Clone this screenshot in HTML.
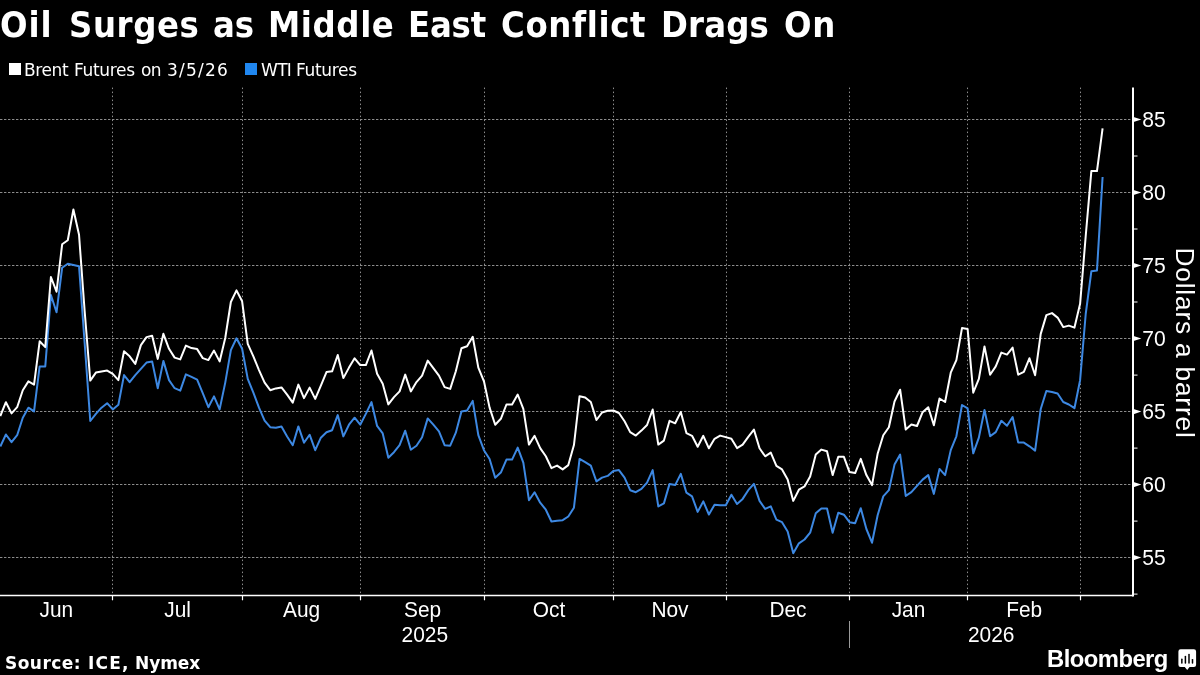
<!DOCTYPE html>
<html lang="en"><head><meta charset="utf-8"><title>Oil Surges as Middle East Conflict Drags On</title>
<style>
html,body{margin:0;padding:0;background:#000;}
body{width:1200px;height:675px;position:relative;overflow:hidden;color:#fff;font-family:"DejaVu Sans","Liberation Sans",sans-serif;}
.t{position:absolute;white-space:nowrap;line-height:1;will-change:transform;}
#title{top:7px;height:44px;width:900px;font-family:"DejaVu Sans Condensed","DejaVu Sans","Liberation Sans",sans-serif;font-weight:bold;font-size:36px;line-height:1;white-space:nowrap;}
.w span{position:absolute;top:0;will-change:transform;}
.w{position:absolute;left:0;white-space:nowrap;line-height:1;}
.leg{top:62px;height:20px;width:400px;font-size:17px;}
#src{top:654.5px;height:20px;width:300px;font-size:17px;font-weight:bold;}
.sw{position:absolute;width:12px;height:12px;top:63px;}
#bb{left:1047px;top:647.2px;font-family:"Liberation Sans",sans-serif;font-weight:bold;font-size:23.8px;letter-spacing:-0.53px;}
</style></head><body>
<svg width="1200" height="675" viewBox="0 0 1200 675" style="position:absolute;left:0;top:0;will-change:transform">
<g stroke="#8c8c8c" stroke-width="1" stroke-dasharray="2.4 1.6" fill="none">
<line x1="0" y1="557.5" x2="1132.0" y2="557.5"/>
<line x1="0" y1="484.5" x2="1132.0" y2="484.5"/>
<line x1="0" y1="411.5" x2="1132.0" y2="411.5"/>
<line x1="0" y1="338.5" x2="1132.0" y2="338.5"/>
<line x1="0" y1="265.5" x2="1132.0" y2="265.5"/>
<line x1="0" y1="192.5" x2="1132.0" y2="192.5"/>
<line x1="0" y1="119.5" x2="1132.0" y2="119.5"/>
</g>
<g stroke="#8c8c8c" stroke-width="1" stroke-dasharray="1.5 2.5" fill="none">
<line x1="112.5" y1="87.6" x2="112.5" y2="595.5"/>
<line x1="242.5" y1="87.6" x2="242.5" y2="595.5"/>
<line x1="360.5" y1="87.6" x2="360.5" y2="595.5"/>
<line x1="484.5" y1="87.6" x2="484.5" y2="595.5"/>
<line x1="613.5" y1="87.6" x2="613.5" y2="595.5"/>
<line x1="726.5" y1="87.6" x2="726.5" y2="595.5"/>
<line x1="849.5" y1="87.6" x2="849.5" y2="595.5"/>
<line x1="967.5" y1="87.6" x2="967.5" y2="595.5"/>
<line x1="1080.5" y1="87.6" x2="1080.5" y2="595.5"/>
</g>
<polyline points="0.29,446.5 5.91,434.5 11.54,442.2 17.16,435.2 22.79,417.7 28.41,407.7 34.03,411.4 39.66,366.4 45.28,366.4 50.91,295 56.53,312.3 62.15,267.7 67.78,263.7 73.4,265 79.03,266.3 84.65,343 90.27,421.0 95.9,413.9 101.52,407.7 107.15,403.2 112.77,409.4 118.39,404.7 124.02,375.1 129.64,382.1 135.27,375.1 140.89,368.9 146.51,362.6 152.14,361.4 157.76,388.2 163.39,360.9 169.01,380.1 174.63,388.2 180.26,390.7 185.88,374.4 191.51,376.9 197.13,379.6 202.75,393.2 208.38,407.2 214.0,396.4 219.63,409.4 225.25,382.6 230.87,350.1 236.5,338.3 242.12,348.8 247.75,378.9 253.37,392.7 258.99,407.7 264.62,420.7 270.24,427.2 275.87,427.7 281.49,426.5 287.11,436.5 292.74,445.2 298.36,426.4 303.99,442.7 309.61,434.7 315.23,450.2 320.86,437.7 326.48,432.2 332.11,430.2 337.73,415.1 343.35,436.4 348.98,424.7 354.6,417.7 360.23,424.7 365.85,413.9 371.47,402.1 377.1,425.9 382.72,433.4 388.35,457.7 393.97,452.2 399.59,445.2 405.22,430.7 410.84,449.7 416.47,445.7 422.09,437.2 427.71,418.4 433.34,424.7 438.96,431.4 444.59,445.2 450.21,445.7 455.83,432.7 461.46,411.4 467.08,410.6 472.71,400.9 478.33,435.2 483.95,450.2 489.58,459.0 495.2,477.8 500.83,472.6 506.45,459.6 512.07,459.6 517.7,447.6 523.32,462.6 528.95,500.2 534.57,492.2 540.19,502.7 545.82,509.7 551.44,521.5 557.07,520.7 562.69,520.2 568.31,516.5 573.94,507.7 579.56,458.9 585.19,462.1 590.81,465.6 596.43,481.4 602.06,477.6 607.68,475.9 613.31,470.9 618.93,470.1 624.55,477.6 630.18,490.2 635.8,492.2 641.43,488.9 647.05,482.6 652.67,470.1 658.3,506.4 663.92,503.4 669.55,483.9 675.17,485.1 680.79,473.9 686.42,492.7 692.04,496.4 697.67,511.9 703.29,501.4 708.91,514.5 714.54,504.7 720.16,505.2 725.79,505.2 731.41,494.7 737.03,503.9 742.66,498.9 748.28,490.2 753.91,483.9 759.53,500.9 765.15,508.9 770.78,506.4 776.4,519.7 782.03,522.2 787.65,531.5 793.27,553.3 798.9,543.3 804.52,539.5 810.15,532.7 815.77,513.2 821.39,508.4 827.02,508.4 832.64,532.7 838.27,512.7 843.89,514.7 849.51,522.2 855.14,523.2 860.76,508.2 866.39,529.0 872.01,542.7 877.63,515.2 883.26,496.4 888.88,490.2 894.51,464.6 900.13,454.6 905.75,495.9 911.38,492.2 917.0,485.9 922.63,479.6 928.25,475.1 933.87,493.9 939.5,468.9 945.12,475.1 950.75,450.1 956.37,436.3 961.99,405.0 967.62,408.3 973.24,453.3 978.87,437.6 984.49,410.0 990.11,436.3 995.74,432.1 1001.36,420.8 1006.99,425.8 1012.61,417.0 1018.23,442.6 1023.86,442.6 1029.48,446.3 1035.11,450.6 1040.73,409.0 1046.35,391.0 1051.98,392.0 1057.6,393.5 1063.23,402.0 1068.85,404.5 1074.47,408.2 1080.1,380.2 1085.72,314 1091.35,271.3 1096.97,270.5 1102.59,177" fill="none" stroke="#3d88e2" stroke-width="2" stroke-linejoin="round" stroke-linecap="butt"/>
<polyline points="0.29,416.0 5.91,402.2 11.54,413.4 17.16,407.2 22.79,390.2 28.41,381.4 34.03,384.6 39.66,341.3 45.28,347.1 50.91,277 56.53,291.7 62.15,244.3 67.78,240.3 73.4,209.5 79.03,234.8 84.65,311 90.27,380.6 95.9,372.6 101.52,371.4 107.15,370.6 112.77,373.9 118.39,380.1 124.02,351.3 129.64,356.3 135.27,363.9 140.89,345.1 146.51,337.1 152.14,335.8 157.76,358.9 163.39,333.8 169.01,348.8 174.63,357.6 180.26,359.4 185.88,345.6 191.51,348.1 197.13,349.1 202.75,358.1 208.38,360.1 214.0,350.6 219.63,361.4 225.25,338 230.87,302 236.5,290.4 242.12,301.3 247.75,343.8 253.37,356.3 258.99,370.1 264.62,382.6 270.24,390.2 275.87,388.4 281.49,387.4 287.11,394.7 292.74,402.6 298.36,384.6 303.99,398.1 309.61,387.6 315.23,398.9 320.86,385.6 326.48,372.1 332.11,371.3 337.73,355.0 343.35,378.1 348.98,367.6 354.6,358.3 360.23,365.1 365.85,365.1 371.47,350.5 377.1,373.8 382.72,383.8 388.35,404.4 393.97,397.1 399.59,391.4 405.22,374.6 410.84,391.4 416.47,382.1 422.09,375.6 427.71,360.6 433.34,368.1 438.96,375.6 444.59,387.1 450.21,388.9 455.83,371.3 461.46,348.3 467.08,346.3 472.71,336.8 478.33,367.6 483.95,381.3 489.58,407.6 495.2,424.7 500.83,418.8 506.45,404.5 512.07,404.5 517.7,394.5 523.32,408.8 528.95,444.6 534.57,435.8 540.19,448.1 545.82,456.3 551.44,468.1 557.07,465.6 562.69,469.4 568.31,465.1 573.94,445.1 579.56,396.2 585.19,397.5 590.81,402.0 596.43,420.0 602.06,412.5 607.68,410.8 613.31,410.5 618.93,413.0 624.55,421.3 630.18,432.1 635.8,435.6 641.43,430.6 647.05,425.0 652.67,409.5 658.3,444.6 663.92,440.6 669.55,420.8 675.17,423.3 680.79,412.0 686.42,433.1 692.04,435.8 697.67,446.8 703.29,435.8 708.91,448.3 714.54,438.8 720.16,435.6 725.79,437.1 731.41,438.8 737.03,448.1 742.66,444.6 748.28,436.8 753.91,429.6 759.53,448.3 765.15,456.3 770.78,452.6 776.4,465.9 782.03,469.4 787.65,479.6 793.27,500.9 798.9,489.7 804.52,486.4 810.15,476.4 815.77,454.6 821.39,449.6 827.02,451.3 832.64,475.1 838.27,456.8 843.89,456.8 849.51,472.1 855.14,473.1 860.76,458.9 866.39,475.1 872.01,485.1 877.63,453.8 883.26,435.3 888.88,427.3 894.51,401.5 900.13,389.7 905.75,429.5 911.38,424.5 917.0,426.0 922.63,412.2 928.25,407.2 933.87,425.3 939.5,398.5 945.12,402.0 950.75,372.7 956.37,360.2 961.99,328.1 967.62,328.9 973.24,392.7 978.87,378.9 984.49,346.4 990.11,374.7 995.74,366.4 1001.36,352.6 1006.99,354.6 1012.61,347.6 1018.23,374.7 1023.86,371.9 1029.48,358.2 1035.11,375.2 1040.73,333.9 1046.35,315.1 1051.98,313.1 1057.6,317.6 1063.23,327.1 1068.85,325.6 1074.47,327.6 1080.1,303.8 1085.72,236 1091.35,171.1 1096.97,171.1 1102.59,128.4" fill="none" stroke="#fff" stroke-width="2" stroke-linejoin="round" stroke-linecap="butt"/>
<g stroke="#fff" fill="none">
<line x1="1133.0" y1="87.6" x2="1133.0" y2="596.5" stroke-width="2"/>
<line x1="0" y1="595.5" x2="1133.0" y2="595.5" stroke-width="1.3"/>
<line x1="112.5" y1="595.5" x2="112.5" y2="600.3" stroke-width="1.2"/>
<line x1="242.5" y1="595.5" x2="242.5" y2="600.3" stroke-width="1.2"/>
<line x1="360.5" y1="595.5" x2="360.5" y2="600.3" stroke-width="1.2"/>
<line x1="484.5" y1="595.5" x2="484.5" y2="600.3" stroke-width="1.2"/>
<line x1="613.5" y1="595.5" x2="613.5" y2="600.3" stroke-width="1.2"/>
<line x1="726.5" y1="595.5" x2="726.5" y2="600.3" stroke-width="1.2"/>
<line x1="849.5" y1="595.5" x2="849.5" y2="600.3" stroke-width="1.2"/>
<line x1="967.5" y1="595.5" x2="967.5" y2="600.3" stroke-width="1.2"/>
<line x1="1080.5" y1="595.5" x2="1080.5" y2="600.3" stroke-width="1.2"/>
<line x1="1133.0" y1="594.1" x2="1137.5" y2="594.1" stroke-width="1"/>
<line x1="1133.0" y1="521.1" x2="1137.5" y2="521.1" stroke-width="1"/>
<line x1="1133.0" y1="448.1" x2="1137.5" y2="448.1" stroke-width="1"/>
<line x1="1133.0" y1="375.1" x2="1137.5" y2="375.1" stroke-width="1"/>
<line x1="1133.0" y1="302.0" x2="1137.5" y2="302.0" stroke-width="1"/>
<line x1="1133.0" y1="229.0" x2="1137.5" y2="229.0" stroke-width="1"/>
<line x1="1133.0" y1="156.0" x2="1137.5" y2="156.0" stroke-width="1"/>
</g>
<g fill="#fff" font-family='"Liberation Sans", sans-serif' font-size="22.8">
<path d="M1133.5,555.0 L1141.4,557.6 L1133.5,560.2 Z"/>
<text transform="translate(1142.3,565.4) scale(0.925,1)" text-anchor="start">55</text>
<path d="M1133.5,482.0 L1141.4,484.6 L1133.5,487.2 Z"/>
<text transform="translate(1142.3,492.4) scale(0.925,1)" text-anchor="start">60</text>
<path d="M1133.5,409.0 L1141.4,411.6 L1133.5,414.2 Z"/>
<text transform="translate(1142.3,419.4) scale(0.925,1)" text-anchor="start">65</text>
<path d="M1133.5,335.9 L1141.4,338.5 L1133.5,341.1 Z"/>
<text transform="translate(1142.3,346.3) scale(0.925,1)" text-anchor="start">70</text>
<path d="M1133.5,262.9 L1141.4,265.5 L1133.5,268.1 Z"/>
<text transform="translate(1142.3,273.3) scale(0.925,1)" text-anchor="start">75</text>
<path d="M1133.5,189.9 L1141.4,192.5 L1133.5,195.1 Z"/>
<text transform="translate(1142.3,200.3) scale(0.925,1)" text-anchor="start">80</text>
<path d="M1133.5,116.9 L1141.4,119.5 L1133.5,122.1 Z"/>
<text transform="translate(1142.3,127.3) scale(0.925,1)" text-anchor="start">85</text>
<text transform="translate(56.3,617.2) scale(0.915,1)" text-anchor="middle">Jun</text>
<text transform="translate(177.6,617.2) scale(0.915,1)" text-anchor="middle">Jul</text>
<text transform="translate(301.6,617.2) scale(0.915,1)" text-anchor="middle">Aug</text>
<text transform="translate(422.6,617.2) scale(0.915,1)" text-anchor="middle">Sep</text>
<text transform="translate(549.0,617.2) scale(0.915,1)" text-anchor="middle">Oct</text>
<text transform="translate(670.0,617.2) scale(0.915,1)" text-anchor="middle">Nov</text>
<text transform="translate(788.0,617.2) scale(0.915,1)" text-anchor="middle">Dec</text>
<text transform="translate(908.5,617.2) scale(0.915,1)" text-anchor="middle">Jan</text>
<text transform="translate(1024.2,617.2) scale(0.915,1)" text-anchor="middle">Feb</text>
<text transform="translate(424.8,642.2) scale(0.92,1)" text-anchor="middle">2025</text>
<text transform="translate(991.2,642.2) scale(0.92,1)" text-anchor="middle">2026</text>
</g>
<line x1="849.5" y1="621" x2="849.5" y2="648" stroke="#9a9a9a" stroke-width="1"/>
<text transform="translate(1176,343) rotate(90)" text-anchor="middle" fill="#fff" font-family='"Liberation Sans", sans-serif' font-size="26.3" letter-spacing="0.8">Dollars a barrel</text>
<g>
<path d="M1180.6,649.2 H1193.9 a2.2,2.2 0 0 1 2.2,2.2 V664.7 a2.2,2.2 0 0 1 -2.2,2.2 H1189.6 L1187.2,669.9 L1184.8,666.9 H1180.6 a2.2,2.2 0 0 1 -2.2,-2.2 V651.4 a2.2,2.2 0 0 1 2.2,-2.2 Z" fill="#fff"/>
<rect x="1181.10" y="658.6" width="1.5" height="5.1" rx="0.7" fill="#000"/>
<rect x="1184.65" y="655.8" width="1.5" height="7.9" rx="0.7" fill="#000"/>
<rect x="1188.25" y="653.7" width="1.5" height="10.0" rx="0.7" fill="#000"/>
<rect x="1191.75" y="658.9" width="1.5" height="4.8" rx="0.7" fill="#000"/>
</g>
</svg>
<div class="w" id="title"><span style="left:-0.28px;letter-spacing:1.0px">Oil</span> <span style="left:69.15px;letter-spacing:0.6px">Surges</span> <span style="left:212.68px;letter-spacing:-0.21px">as</span> <span style="left:267.8px;letter-spacing:0.61px">Middle</span> <span style="left:407.8px;letter-spacing:-0.21px">East</span> <span style="left:501.42px;letter-spacing:0.65px">Conflict</span> <span style="left:661.1px;letter-spacing:0.17px">Drags</span> <span style="left:784.42px;letter-spacing:0.65px">On</span></div>
<div class="sw" style="left:9px;background:#fff"></div>
<div class="w leg" id="l1"><span style="left:24.49px;letter-spacing:-0.38px">Brent</span> <span style="left:74.39px;letter-spacing:-0.32px">Futures</span> <span style="left:140.99px;letter-spacing:-0.67px">on</span> <span style="left:167.42px;letter-spacing:1.24px">3/5/26</span></div>
<div class="sw" style="left:245px;background:#2087f0"></div>
<div class="w leg" id="l2"><span style="left:260.68px;letter-spacing:-0.66px">WTI</span> <span style="left:295.69px;letter-spacing:-0.33px">Futures</span></div>
<div class="w" id="src"><span style="left:4.66px;letter-spacing:0.47px">Source:</span> <span style="left:88.33px;letter-spacing:1.2px">ICE,</span> <span style="left:135.1px;letter-spacing:-0.09px">Nymex</span></div>
<div class="t" id="bb">Bloomberg</div>
</body></html>
